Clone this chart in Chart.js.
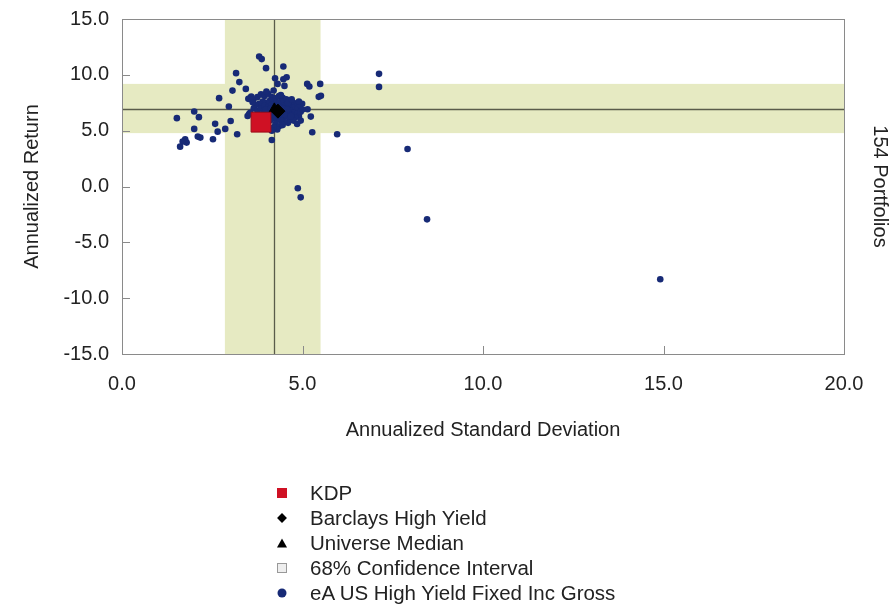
<!DOCTYPE html>
<html>
<head>
<meta charset="utf-8">
<script src="https://cdn.jsdelivr.net/npm/chart.js@4"></script>
<style>
  body { margin:0; background:#fff; font-family:"Liberation Sans", Arial, sans-serif; }
  #wrap { position:relative; width:895px; height:608px; }
  #legend { position:absolute; left:272px; top:480px; color:#222; font-size:20.5px; }
  #legend div { height:25px; display:flex; align-items:center; }
  #legend .mk { width:20px; height:20px; margin-right:18px; position:relative; }
  #legend .mk span { position:absolute; left:50%; top:50%; transform:translate(-50%,-50%); }
</style>
</head>
<body>
<div id="wrap">
  <canvas id="chart" width="895" height="608"></canvas>
  <div id="legend"></div>
</div>
<script>
// --- data ---
const seriesNames = ['KDP', 'Barclays High Yield', 'Universe Median', '68% Confidence Interval', 'eA US High Yield Fixed Inc Gross'];
const kdp = [3.85, 5.76];
const barclays = [4.32, 6.75];
const median = [4.22, 6.95];
const ciSd = [2.85, 5.5];
const ciRet = [4.78, 9.19];
const xTicks = [0, 5, 10, 15, 20];
const yTicks = [-15, -10, -5, 0, 5, 10, 15];
const portfolioCount = 154;
// universe portfolios [std dev, return]
const universe = [
  [3.80,11.64],[3.87,11.41],[4.47,10.74],[3.99,10.60],[3.16,10.15],[4.24,9.70],[4.47,9.61],[4.56,9.79],
  [3.25,9.35],[4.31,9.19],[4.50,9.01],[5.13,9.19],[5.19,8.95],[5.49,9.19],[3.06,8.59],[3.43,8.74],
  [5.45,8.03],[2.69,7.91],[3.55,7.91],[3.64,7.76],[2.96,7.16],[4.99,7.40],[5.14,6.92],[2.00,6.71],
  [1.52,6.12],[2.13,6.21],[3.01,5.87],[3.48,6.32],[5.23,6.26],[2.58,5.61],[2.00,5.16],[2.86,5.16],
  [2.65,4.91],[3.19,4.68],[2.10,4.47],[2.17,4.38],[5.27,4.86],[5.96,4.68],[2.52,4.23],[1.75,4.23],
  [1.79,3.93],[1.68,4.02],[1.61,3.57],[4.15,4.17],[3.52,6.48],[7.91,3.36],[4.87,-0.16],[4.95,-0.97],
  [8.45,-2.94],[14.91,-8.30],[7.12,10.09],[7.12,8.92],[3.94,8.21],[5.51,8.12],[3.58,8.05],[3.50,7.85],
  [3.75,8.00],[3.85,8.25],[3.95,8.10],[4.05,8.30],[4.15,8.00],[4.25,7.90],[4.35,8.10],[4.45,7.95],
  [4.55,7.80],[4.65,7.70],[4.75,7.50],[4.85,7.30],[4.90,7.10],[4.80,6.90],[4.70,7.10],[4.60,7.30],
  [4.50,7.50],[4.40,7.60],[4.30,7.50],[4.20,7.60],[4.10,7.70],[4.00,7.50],[3.90,7.60],[3.80,7.40],
  [3.70,7.30],[3.65,7.00],[3.75,6.80],[3.85,7.00],[3.95,7.20],[4.05,7.10],[4.15,7.30],[4.25,7.20],
  [4.35,7.00],[4.45,7.20],[4.55,7.00],[4.65,6.80],[4.75,6.60],[4.85,6.50],[4.90,6.30],[4.80,6.20],
  [4.70,6.40],[4.60,6.60],[4.50,6.80],[4.40,6.60],[4.30,6.70],[4.20,6.90],[4.10,6.80],[4.00,6.60],
  [3.90,6.50],[4.05,6.30],[4.15,6.40],[4.25,6.50],[4.35,6.30],[4.45,6.10],[4.55,6.30],[4.65,6.00],
  [4.75,5.90],[4.60,5.70],[4.50,5.80],[4.40,5.90],[4.30,6.00],[4.20,6.10],[4.10,5.90],[4.25,5.60],
  [4.35,5.40],[4.45,5.50],[4.30,5.10],[4.20,5.30],[4.15,5.00],[4.50,6.50],[4.35,6.90],[4.28,7.05],
  [4.32,6.85],[4.40,7.10],[4.22,6.75],[4.48,6.95],[4.38,6.60],[4.60,7.50],[4.70,7.80],[3.60,7.80],
  [3.55,6.60],[4.95,6.70],[5.00,6.90],[4.90,7.60],[4.00,8.50],[4.20,8.60],[4.40,8.20],[3.98,6.90],
  [4.12,7.00],[4.58,6.90],[4.68,6.30],[3.70,6.20],[3.80,6.40],[4.85,5.60],[4.95,5.90],[3.62,7.55]
];

const dotColor = '#172a76';
const font = { family: '"Liberation Sans", Arial, sans-serif', size: 20 };

// bands, crosshair, inside ticks, frame, side label
const decor = {
  id: 'decor',
  beforeDatasetsDraw(chart) {
    const { ctx, chartArea: a, scales: { x, y } } = chart;
    ctx.save();
    ctx.fillStyle = '#e6eac2';
    ctx.fillRect(x.getPixelForValue(ciSd[0]), a.top, x.getPixelForValue(ciSd[1]) - x.getPixelForValue(ciSd[0]), a.bottom - a.top);
    ctx.fillRect(a.left, y.getPixelForValue(ciRet[1]), a.right - a.left, y.getPixelForValue(ciRet[0]) - y.getPixelForValue(ciRet[1]));
    ctx.strokeStyle = '#5a5c4a';
    ctx.lineWidth = 1.3;
    const mx = Math.round(x.getPixelForValue(median[0])) + 0.5;
    const my = Math.round(y.getPixelForValue(median[1])) + 0.5;
    ctx.beginPath();
    ctx.moveTo(mx, a.top); ctx.lineTo(mx, a.bottom);
    ctx.moveTo(a.left, my); ctx.lineTo(a.right, my);
    ctx.stroke();
    // frame and ticks
    ctx.lineWidth = 1;
    ctx.strokeStyle = '#8a8a8a';
    ctx.beginPath();
    xTicks.forEach(v => { const px = Math.round(x.getPixelForValue(v)) + 0.5; ctx.moveTo(px, a.bottom); ctx.lineTo(px, a.bottom - 8); });
    yTicks.forEach(v => { const py = Math.round(y.getPixelForValue(v)) + 0.5; ctx.moveTo(a.left, py); ctx.lineTo(a.left + 8, py); });
    ctx.stroke();
    ctx.strokeRect(Math.round(a.left) + 0.5, Math.round(a.top) + 0.5, Math.round(a.right - a.left), Math.round(a.bottom - a.top));
    // side label
    ctx.fillStyle = '#222';
    ctx.font = '20px "Liberation Sans", Arial, sans-serif';
    ctx.translate(880, (a.top + a.bottom) / 2);
    ctx.rotate(Math.PI / 2);
    ctx.textAlign = 'center';
    ctx.textBaseline = 'middle';
    ctx.fillText(portfolioCount + ' Portfolios', 0, 0);
    ctx.restore();
  }
};

new Chart(document.getElementById('chart').getContext('2d'), {
  type: 'scatter',
  data: {
    datasets: [
      { label: seriesNames[0], data: [{ x: kdp[0], y: kdp[1] }], pointStyle: 'rect', radius: 14, backgroundColor: '#cf1124', borderColor: '#9c0d1a', borderWidth: 1 },
      { label: seriesNames[1], data: [{ x: barclays[0], y: barclays[1] }], pointStyle: 'rectRot', radius: 7, backgroundColor: '#000', borderColor: '#000' },
      { label: seriesNames[2], data: [{ x: median[0], y: median[1] }], pointStyle: 'triangle', radius: 6, backgroundColor: '#000', borderColor: '#000' },
      { label: seriesNames[4], data: universe.map(p => ({ x: p[0], y: p[1] })), pointStyle: 'circle', radius: 3.3, backgroundColor: dotColor, borderColor: dotColor, borderWidth: 0 }
    ]
  },
  options: {
    responsive: false,
    animation: false,
    layout: { padding: { top: 19, right: 51, bottom: 166, left: 0 } },
    plugins: { legend: { display: false }, tooltip: { enabled: false } },
    scales: {
      x: {
        type: 'linear', min: 0, max: 20,
        afterBuildTicks: s => { s.ticks = xTicks.map(v => ({ value: v })); },
        afterFit: s => { s.height = 88; },
        grid: { display: false },
        border: { display: false },
        ticks: { font, color: '#222', padding: 10, callback: v => v.toFixed(1), maxRotation: 0 },
        title: { display: true, text: 'Annualized Standard Deviation', font, color: '#222', padding: { top: 1, bottom: 0 } }
      },
      y: {
        type: 'linear', min: -15, max: 15,
        afterBuildTicks: s => { s.ticks = yTicks.map(v => ({ value: v })); },
        afterFit: s => { s.width = 122; },
        grid: { display: false },
        border: { display: false },
        ticks: { font, color: '#222', padding: 5, callback: v => v.toFixed(1) },
        title: { display: true, text: 'Annualized Return', font, color: '#222', padding: { top: 20, bottom: 0 } }
      }
    }
  },
  plugins: [decor]
});

// --- legend ---
const markers = [
  '<span style="width:10px;height:10px;background:#cf1124"></span>',
  '<span style="width:7px;height:7px;background:#000;transform:translate(-50%,-50%) rotate(45deg)"></span>',
  '<span style="width:0;height:0;border-left:5px solid transparent;border-right:5px solid transparent;border-bottom:9px solid #000"></span>',
  '<span style="width:8px;height:8px;background:#eee;border:1px solid #999"></span>',
  '<span style="width:9px;height:9px;border-radius:50%;background:' + dotColor + '"></span>'
];
const lg = document.getElementById('legend');
seriesNames.forEach((n, i) => {
  const d = document.createElement('div');
  d.innerHTML = '<div class="mk">' + markers[i] + '</div><div>' + n + '</div>';
  lg.append(d);
});
</script>
</body>
</html>
